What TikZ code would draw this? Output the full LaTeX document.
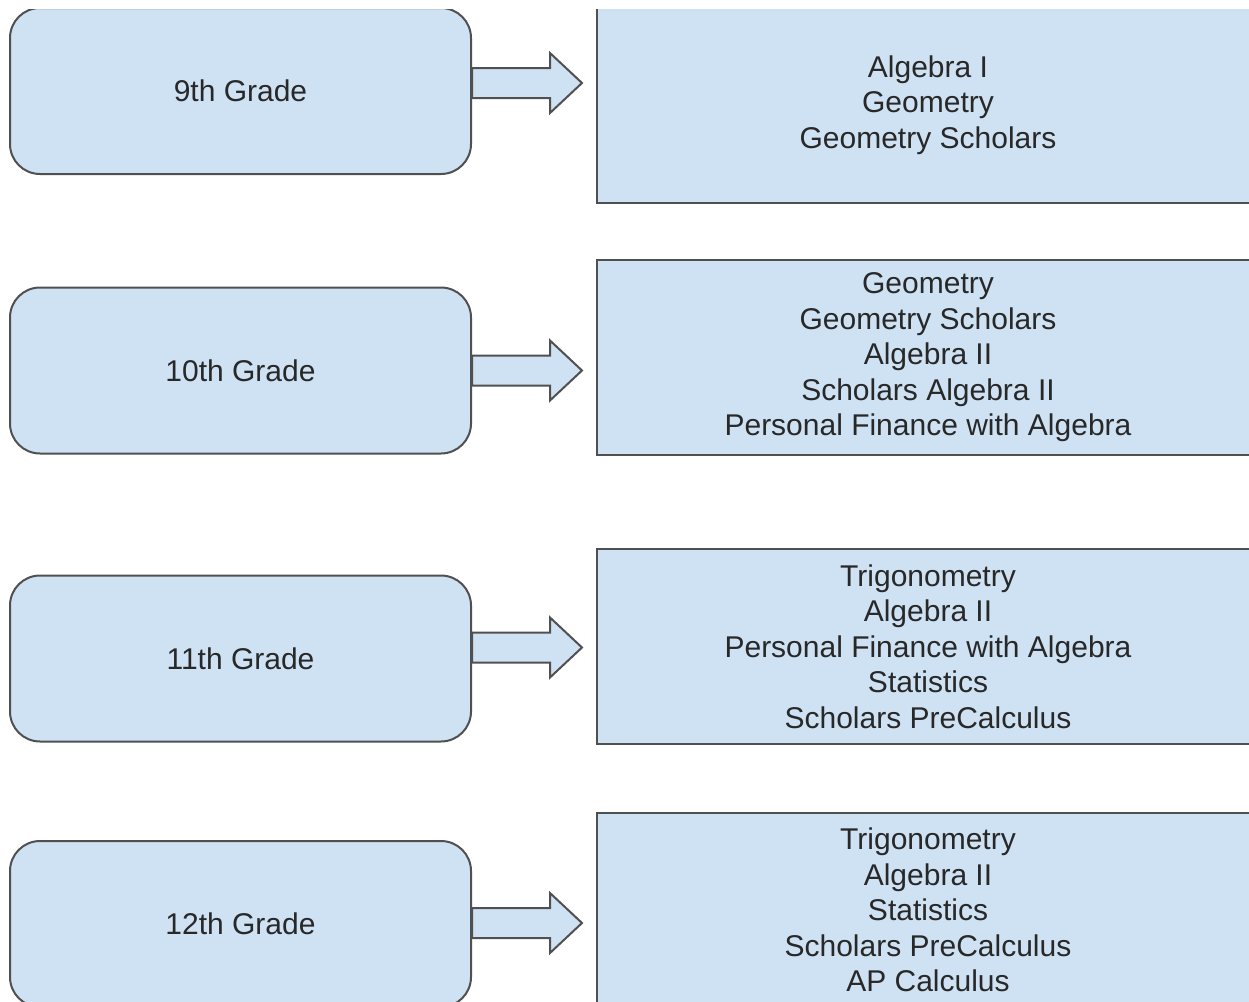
\documentclass[tikz,border=0pt]{standalone}
\usepackage{fontspec}
\setmainfont{Liberation Sans}
\usetikzlibrary{calc}
\definecolor{boxblue}{RGB}{207,226,243}
\definecolor{edgegray}{RGB}{80,80,80}
\definecolor{textgray}{RGB}{40,40,40}

\begin{document}
\begin{tikzpicture}[x=0.5pt, y=-0.5pt, line width=1pt,
    grade/.style = {draw=edgegray, fill=boxblue, rounded corners=15pt, minimum width=230.5pt, minimum height=83pt, text=textgray, font=\fontsize{15}{17.75}\selectfont},
    course/.style = {draw=edgegray, fill=boxblue, minimum width=331pt, minimum height=97.5pt, align=center, text=textgray, font=\fontsize{15}{17.75}\selectfont},
    blockarrow/.style = {draw=edgegray, fill=boxblue, line join=miter}]
    \useasboundingbox (0,0) rectangle (1249,1002);
    \clip (0,9) rectangle (1249,1002);
    % grades
    \node[grade] (g9) at (240.5,91) {9th Grade};
    \node[grade] (g10) at (240.5,370.5) {10th Grade};
    \node[grade] (g11) at (240.5,658.5) {11th Grade};
    \node[grade] (g12) at (240.5,924) {12th Grade};
    % courses
    \node[course] (c9) at (928,105) {Algebra I\\Geometry\\Geometry Scholars};
    \node[course] (c10) at (928,357.5) {Geometry\\Geometry Scholars\\Algebra II\\Scholars Algebra II\\Personal Finance with Algebra};
    \node[course] (c11) at (928,646.5) {Trigonometry\\Algebra II\\Personal Finance with Algebra\\Statistics\\Scholars PreCalculus};
    \node[course] (c12) at (928,910) {Trigonometry\\Algebra II\\Statistics\\Scholars PreCalculus\\AP Calculus};
    % block arrows
    \foreach \g/\dy in {g9/-8, g10/0, g11/-11, g12/-1} {
        \draw[blockarrow] ($(\g.east)+(0,\dy)$) -- ++(0,-15) -- ++(78,0) -- ++(0,-15) -- ++(32,30) -- ++(-32,30) -- ++(0,-15) -- ++(-78,0) -- cycle;
    }
\end{tikzpicture}
\end{document}
